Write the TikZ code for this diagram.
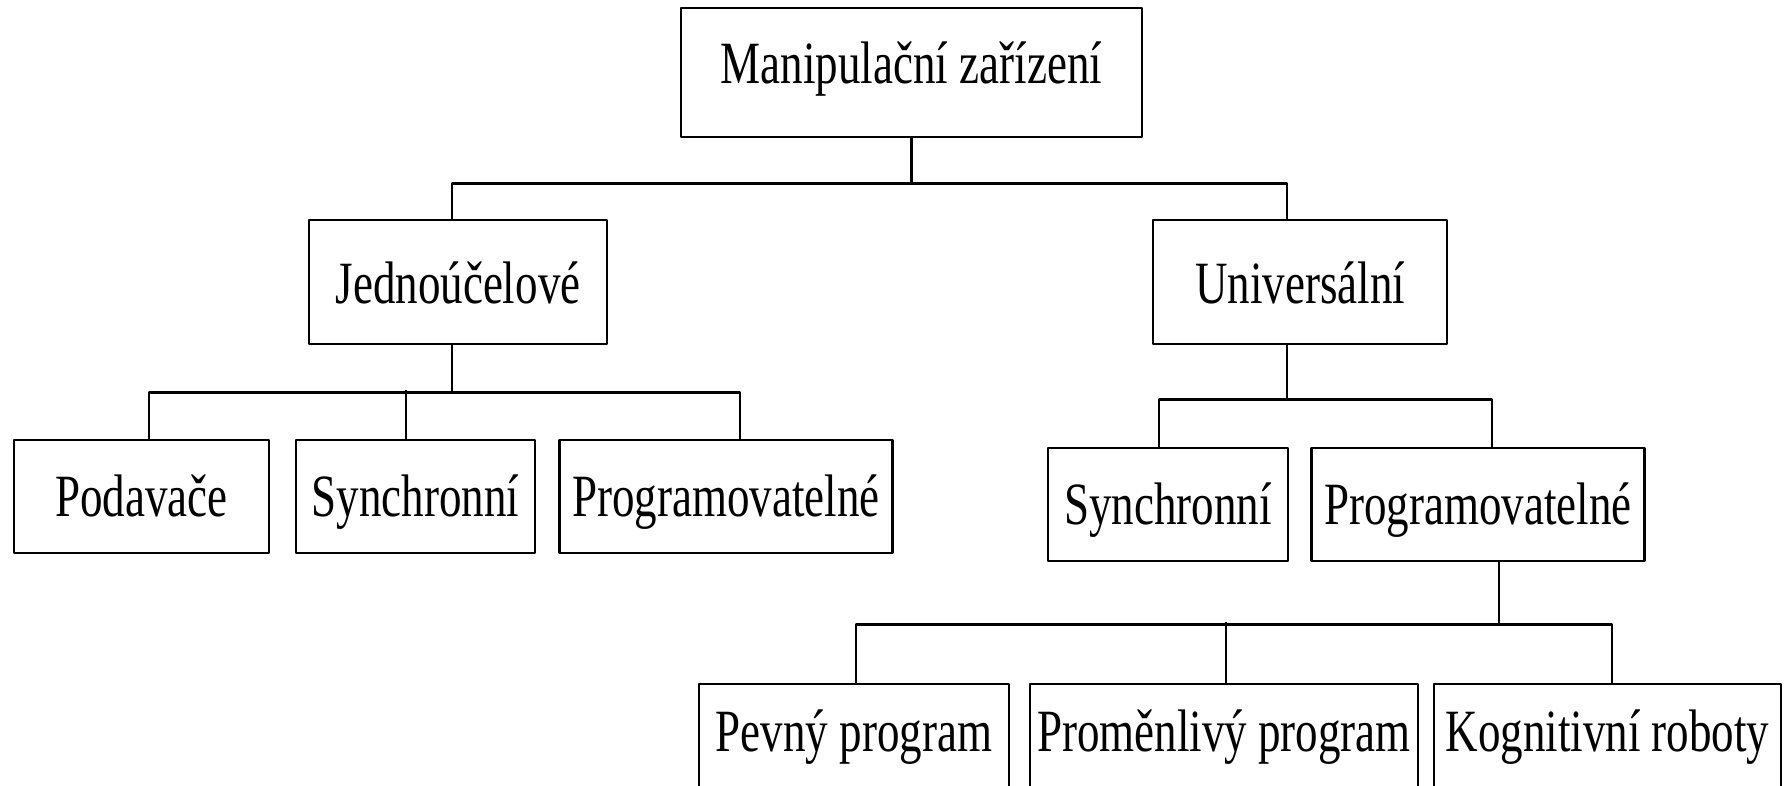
\documentclass[tikz,border=0pt]{standalone}
\usepackage{fontspec}
\setmainfont{Liberation Serif}
\usepackage{graphicx}
\usetikzlibrary{calc}
\newcommand{\uzky}[1]{\scalebox{0.75}[1]{#1}}
\begin{document}
\begin{tikzpicture}[x=1pt,y=-1pt,line join=round,
	uzel/.style={draw,line width=2.4pt,inner sep=0pt,anchor=north,font=\fontsize{60}{72}\selectfont},
	radek1/.style={text height=75pt,text depth=54pt},
	radek2/.style={text height=83pt,text depth=41pt},
	radek3/.style={text height=76pt,text depth=37pt},
	radek4/.style={text height=67pt,text depth=50pt}]
	\useasboundingbox (0,0) rectangle (1787,785);
	\clip (0,0) rectangle (1787,785);
	% boxes
	\node[uzel,radek1,minimum width=461] (vrchol) at (911.5,7) {\uzky{Manipulační zařízení}};
	\node[uzel,radek2,minimum width=298] (jedno) at (458,219) {\uzky{Jednoúčelové}};
	\node[uzel,radek2,minimum width=294] (univ) at (1300,219) {\uzky{Universální}};
	\node[uzel,radek3,minimum width=255] (podav) at (141.5,439) {\uzky{Podavače}};
	\node[uzel,radek3,minimum width=239] (synL) at (415.5,439) {\uzky{Synchronní}};
	\node[uzel,radek3,minimum width=333] (progL) at (726,439) {\uzky{Programovatelné}};
	\node[uzel,radek3,minimum width=240] (synR) at (1168,447) {\uzky{Synchronní}};
	\node[uzel,radek3,minimum width=333] (progR) at (1478,447) {\uzky{Programovatelné}};
	\node[uzel,radek4,minimum width=310] (pevny) at (854,683) {\uzky{Pevný program}};
	\node[uzel,radek4,minimum width=388] (promen) at (1224,683) {\uzky{Proměnlivý program}};
	\node[uzel,radek4,minimum width=347] (kogn) at (1607.5,683) {\uzky{Kognitivní roboty}};
	% connectors
	\begin{scope}[line width=2.4pt,line cap=butt]
	\draw (vrchol.south) -- ++(0,45) coordinate (r1);
	\draw ($(jedno.north)+(-6,0)$) |- (r1) -| ($(univ.north)+(-13,0)$);
	\draw ($(jedno.south)+(-6,0)$) -- ++(0,47) coordinate (r2);
	\draw ($(podav.north)+(7.5,0)$) |- (r2) -| ($(progL.north)+(14,0)$);
	\draw ($(synL.north)+(-9.5,0)$) -- ++(0,-49);
	\draw ($(univ.south)+(-13,0)$) -- ++(0,54) coordinate (r3);
	\draw ($(synR.north)+(-9,0)$) |- (r3) -| ($(progR.north)+(14,0)$);
	\draw ($(progR.south)+(21,0)$) -- ++(0,62) coordinate (r4);
	\draw ($(pevny.north)+(2,0)$) |- (r4) -| ($(kogn.north)+(4.5,0)$);
	\draw ($(promen.north)+(2,0)$) -- ++(0,-61);
	\end{scope}
\end{tikzpicture}
\end{document}
